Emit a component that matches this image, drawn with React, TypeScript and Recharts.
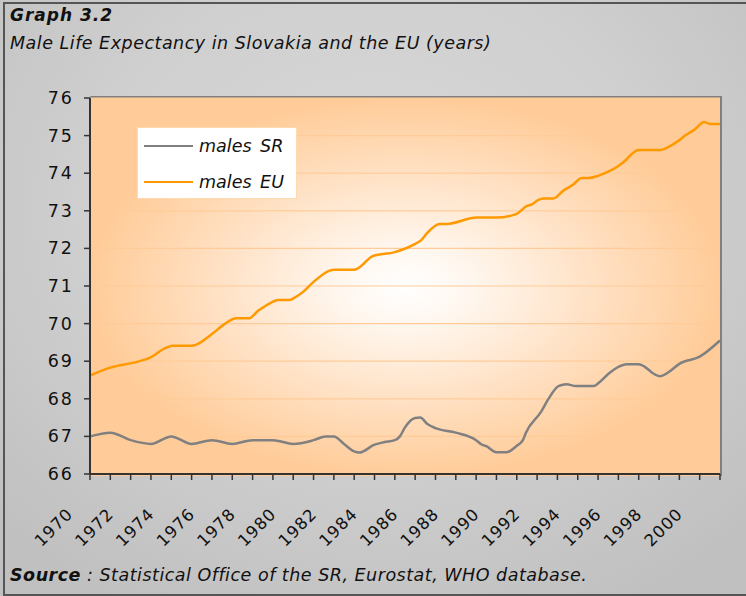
import React from "react";
import { LineChart, Line, XAxis, YAxis, CartesianGrid } from "recharts";

// Slovak Republic, males
const srYears = [
  1970, 1971, 1972, 1973, 1974, 1975, 1976, 1977, 1978, 1979, 1980, 1981, 1981.6, 1982, 1982.5, 1983,
  1983.25, 1984, 1984.5, 1985, 1985.25, 1985.5, 1986, 1986.25, 1986.6, 1987, 1988, 1989, 1989.25, 1989.5,
  1990, 1990.5, 1991, 1991.3, 1991.45, 1992.2, 1992.55, 1993.05, 1993.45, 1993.9, 1994.8, 1995, 1995.5,
  1996, 1996.4, 1997, 1997.3, 1997.7, 1998.05, 1998.5, 1999, 2000, 2001,
];
const srValues = [
  67.0, 67.1, 66.9, 66.8, 67.0, 66.8, 66.9, 66.8, 66.9, 66.9, 66.8, 66.9, 67.0, 67.0, 66.8, 66.6,
  66.57, 66.78, 66.85, 66.9, 67.0, 67.24, 67.49, 67.5, 67.33, 67.22, 67.1, 66.9, 66.79, 66.74,
  66.58, 66.58, 66.75, 66.9, 67.1, 67.66, 67.99, 68.34, 68.39, 68.34, 68.34, 68.41, 68.66,
  68.85, 68.92, 68.92, 68.85, 68.68, 68.6, 68.72, 68.93, 69.12, 69.55,
];

// EU, males
const euYears = [
  1970, 1971, 1972.36, 1972.93, 1973.75, 1974.08, 1975.02, 1975.97, 1976.55, 1977.2, 1977.81, 1978.27,
  1978.92, 1979.25, 1979.83, 1980.1, 1980.5, 1981, 1982.02, 1983, 1983.94, 1985, 1986, 1986.3, 1986.57,
  1987.22, 1987.55, 1989.03, 1990, 1990.97, 1991.5, 1991.75, 1992.06, 1992.3, 1992.8, 1993.28, 1993.78,
  1994.2, 1994.52, 1995, 1995.5, 1996, 1996.33, 1996.66, 1996.98, 1998.05, 1998.54, 1998.95, 1999.28,
  1999.77, 2000.22, 2000.5, 2001,
];
const euValues = [
  68.62, 68.83, 68.99, 69.09, 69.36, 69.41, 69.41, 69.71, 69.96, 70.14, 70.14, 70.34,
  70.56, 70.63, 70.63, 70.7, 70.85, 71.11, 71.43, 71.43, 71.8, 71.9, 72.12, 72.22, 72.4,
  72.65, 72.65, 72.82, 72.82, 72.91, 73.13, 73.17, 73.29, 73.33, 73.33, 73.53, 73.7,
  73.87, 73.87, 73.93, 74.04, 74.19, 74.33, 74.51, 74.62, 74.62, 74.72, 74.86, 75.0,
  75.17, 75.36, 75.31, 75.31,
];

const yearTicks = [
  1970, 1971, 1972, 1973, 1974, 1975, 1976, 1977, 1978, 1979, 1980, 1981, 1982, 1983, 1984, 1985,
  1986, 1987, 1988, 1989, 1990, 1991, 1992, 1993, 1994, 1995, 1996, 1997, 1998, 1999, 2000, 2001,
];
const yearLabels = [
  1970, 1972, 1974, 1976, 1978, 1980, 1982, 1984, 1986, 1988, 1990, 1992, 1994, 1996, 1998, 2000,
];
const valueTicks = [66, 67, 68, 69, 70, 71, 72, 73, 74, 75, 76];

const srData = srYears.map((year, i) => ({ year, value: srValues[i] }));
const euData = euYears.map((year, i) => ({ year, value: euValues[i] }));

const FONT = "'DejaVu Sans', Verdana, sans-serif";

// plot box (px)
const PLOT = { left: 90, top: 98, right: 720, bottom: 474 };

function XTick(props: any) {
  const { x, y, payload } = props;
  if (!yearLabels.includes(payload.value)) return null;
  return (
    <text
      transform={`translate(${x - 16},${y + 33}) rotate(-45)`}
      textAnchor="end"
      fontSize={16.5}
      letterSpacing={1}
      fill="#111"
      fontFamily={FONT}
    >
      {payload.value}
    </text>
  );
}

function YTick(props: any) {
  const { x, y, payload } = props;
  return (
    <text
      x={x - 8}
      y={y + 6}
      textAnchor="end"
      fontSize={17.5}
      letterSpacing={2}
      fill="#111"
      fontFamily={FONT}
    >
      {payload.value}
    </text>
  );
}

export default function App() {
  return (
    <div
      style={{
        position: "absolute",
        left: 0,
        top: 0,
        width: 746,
        height: 596,
        overflow: "hidden",
        background: "radial-gradient(ellipse 70% 75% at 50% 35%, #d9d9d9 0%, #cfcfcf 55%, #c0c0c0 100%)",
        fontFamily: FONT,
      }}
    >
      {/* outer frame */}
      <div
        style={{
          position: "absolute",
          left: 3,
          top: 2,
          width: 760,
          height: 590,
          borderLeft: "2px solid #555",
          borderTop: "2px solid #555",
          borderBottom: "2px solid #555",
        }}
      />
      <div style={{ position: "absolute", left: 10, top: 5, fontSize: 17, fontWeight: "bold", fontStyle: "italic", color: "#111", letterSpacing: 1 }}>
        Graph 3.2
      </div>
      <div style={{ position: "absolute", left: 10, top: 33, fontSize: 17.5, letterSpacing: 0.5, fontStyle: "italic", color: "#111" }}>
        Male Life Expectancy in Slovakia and the EU (years)
      </div>

      {/* plot background */}
      <div
        style={{
          position: "absolute",
          left: PLOT.left,
          top: PLOT.top - 2,
          width: PLOT.right - PLOT.left,
          height: PLOT.bottom - PLOT.top + 2,
          background: "radial-gradient(ellipse closest-side at 50% 50%, #ffffff 0%, #fff8f1 18%, #ffe2c6 58%, #ffcc99 100%)",
          borderTop: "2px solid #808080",
          borderRight: "2px solid #808080",
        }}
      />

      <div style={{ position: "absolute", left: 0, top: 0 }}>
        <LineChart
          width={746}
          height={596}
          margin={{ top: PLOT.top, right: 746 - PLOT.right, bottom: 596 - PLOT.bottom - 60, left: PLOT.left - 60 }}
        >
          <CartesianGrid vertical={false} stroke="#ffcc99" strokeWidth={1.2} />
          <XAxis
            dataKey="year"
            type="number"
            domain={[1970, 2001]}
            ticks={yearTicks}
            interval={0}
            allowDuplicatedCategory={false}
            height={60}
            tick={<XTick />}
            tickSize={6}
            axisLine={{ stroke: "#333", strokeWidth: 2 }}
            tickLine={{ stroke: "#333", strokeWidth: 1.5 }}
          />
          <YAxis
            type="number"
            domain={[66, 76]}
            ticks={valueTicks}
            interval={0}
            width={60}
            tick={<YTick />}
            tickSize={6}
            axisLine={{ stroke: "#333", strokeWidth: 2 }}
            tickLine={{ stroke: "#333", strokeWidth: 1.5 }}
          />
          <Line
            data={srData}
            dataKey="value"
            type="monotone"
            stroke="#808080"
            strokeWidth={2.5}
            dot={false}
            isAnimationActive={false}
            name="males SR"
          />
          <Line
            data={euData}
            dataKey="value"
            type="monotone"
            stroke="#ff9900"
            strokeWidth={2.5}
            dot={false}
            isAnimationActive={false}
            name="males EU"
          />
        </LineChart>
      </div>

      {/* legend */}
      <div
        style={{
          position: "absolute",
          left: 137,
          top: 127,
          width: 160,
          height: 72,
          background: "#fff",
          border: "1px solid #ffd9b0",
          boxSizing: "border-box",
        }}
      >
        {[
          { label: "males SR", color: "#808080" },
          { label: "males EU", color: "#ff9900" },
        ].map((item, i) => (
          <div key={item.label} style={{ position: "absolute", left: 6, top: 6 + i * 36, height: 24, display: "flex", alignItems: "center" }}>
            <div style={{ width: 49, height: 2, background: item.color, marginRight: 6 }} />
            <span style={{ fontSize: 17.5, fontStyle: "italic", color: "#111", wordSpacing: 3 }}>{item.label}</span>
          </div>
        ))}
      </div>

      <div style={{ position: "absolute", left: 10, top: 565, fontSize: 17.5, letterSpacing: 0.5, fontStyle: "italic", color: "#111" }}>
        <b>Source</b> : Statistical Office of the SR, Eurostat, WHO database.
      </div>
    </div>
  );
}
